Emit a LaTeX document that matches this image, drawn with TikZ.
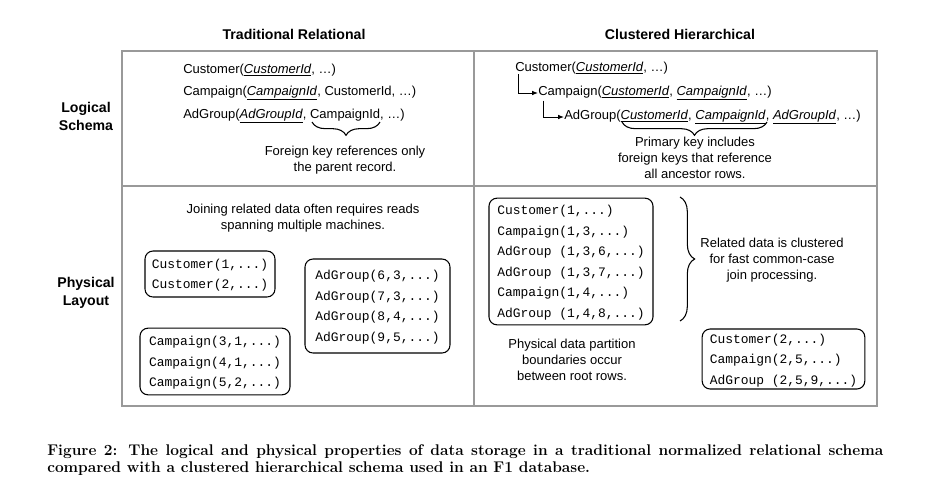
\documentclass[tikz,border=0pt]{standalone}
\usepackage{fontspec}
\newfontfamily\helv{Liberation Sans}
\setmonofont{Liberation Mono}
\usetikzlibrary{decorations.pathreplacing,arrows.meta}

\begin{document}
\begin{tikzpicture}[x=0.75pt,y=-0.75pt]
				\tikzstyle{every node}=[inner sep=0pt]
				\tikzstyle{head}=[font=\helv\fontsize{10.6}{13.5}\selectfont\bfseries, align=center]
				\tikzstyle{schema}=[font=\helv\fontsize{9.75}{11.7}\selectfont, anchor=west]
				\tikzstyle{note}=[font=\helv\fontsize{9.75}{12}\selectfont, align=center]
				\tikzstyle{rows}=[draw, line width=0.8pt, rounded corners=6pt, align=left, text depth=0pt,
				font=\ttfamily\fontsize{9.7}{15.4}\selectfont]
				\tikzstyle{grid}=[draw=black!40, line width=0.8pt]
				\tikzstyle{brace}=[decorate, decoration={brace, amplitude=10pt}, line width=0.8pt]
				\tikzstyle{link}=[-{Latex[length=4.5pt,width=3.5pt]}, line width=0.7pt]
				\useasboundingbox (0,0) rectangle (936,486);
				\draw[grid] (122,51) rectangle (877,406);
				\draw[grid] (122,186) -- (877,186);
				\draw[grid] (474,51) -- (474,406);
				\node[head] (trad) at (294,34) {Traditional Relational};
				\node[head] (clus) at (680,34) {Clustered Hierarchical};
				\node[head] (logical) at (86,116) {Logical\\Schema};
				\node[head] (physical) at (86,293) {Physical\\Layout};
				\node[schema] (cust1) at (183,70) {Customer(\underline{\textit{CustomerId}}, …)};
				\node[schema] (camp1) at (183,93) {Campaign(\underline{\textit{CampaignId}}, CustomerId, …)};
				\node[schema] (adg1) at (183,116) {AdGroup(\underline{\textit{AdGroupId}}, CampaignId, …)};
				\draw[brace, decoration={mirror}] (312,122) -- (380,122);
				\node[note] (fk) at (345,160) {Foreign key references only\\the parent record.};
				\node[schema] (cust2) at (515,68) {Customer(\underline{\textit{CustomerId}}, …)};
				\node[schema] (camp2) at (538,93) {Campaign(\underline{\textit{CustomerId}}, \underline{\textit{CampaignId}}, …)};
				\node[schema] (adg2) at (564,117) {AdGroup(\underline{\textit{CustomerId}}, \underline{\textit{CampaignId}}, \underline{\textit{AdGroupId}}, …)};
				\draw[link] ([xshift=2.25pt]cust2.south west) |- (camp2.west);
				\draw[link] ([xshift=3.75pt]camp2.south west) |- (adg2.west);
				\draw[brace, decoration={mirror}] (622,122) -- (767,122);
				\node[note] (pk) at (695,158) {Primary key includes\\foreign keys that reference\\all ancestor rows.};
				\node[note] (join) at (303,218) {Joining related data often requires reads\\spanning multiple machines.};
				\node[rows, minimum width=97.5pt, minimum height=34.5pt] (custs) at (210,274) {Customer(1,...)\\Customer(2,...)};
				\node[rows, minimum width=112.5pt, minimum height=50pt] (camps) at (215,361.5) {Campaign(3,1,...)\\Campaign(4,1,...)\\Campaign(5,2,...)};
				\node[rows, minimum width=108.75pt, minimum height=70.5pt] (adgs) at (377.5,306) {AdGroup(6,3,...)\\AdGroup(7,3,...)\\AdGroup(8,4,...)\\AdGroup(9,5,...)};
				\node[rows, minimum width=123pt, minimum height=95pt] (tree1) at (571,261.5) {Customer(1,...)\\Campaign(1,3,...)\\AdGroup (1,3,6,...)\\AdGroup (1,3,7,...)\\Campaign(1,4,...)\\AdGroup (1,4,8,...)};
				\node[rows, minimum width=122pt, minimum height=45pt] (tree2) at (783.5,359) {Customer(2,...)\\Campaign(2,5,...)\\AdGroup (2,5,9,...)};
				\draw[brace, decoration={amplitude=11pt}] (680,197) -- (680,321);
				\node[note] (rel) at (772,260) {Related data is clustered\\for fast common-case\\join processing.};
				\node[note] (part) at (572,360) {Physical data partition\\boundaries occur\\between root rows.};
				\node[font=\fontsize{11.6}{12.75}\selectfont\bfseries, align=left, anchor=north west] (caption) at (47,444)
				{\makebox[627pt][s]{Figure 2: The logical and physical properties of data storage in a traditional normalized relational schema}\\compared with a clustered hierarchical schema used in an F1 database.};
\end{tikzpicture}
\end{document}
